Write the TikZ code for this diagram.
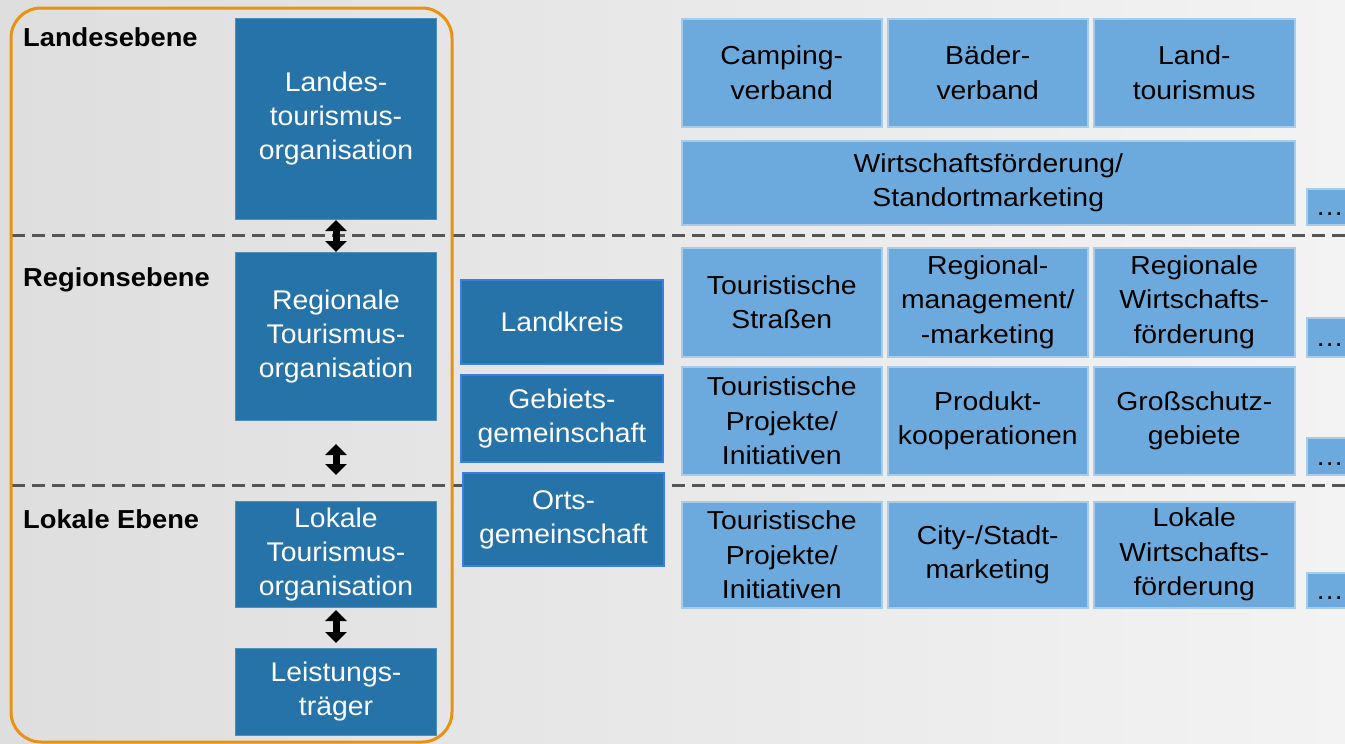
\documentclass[tikz,border=0pt]{standalone}
\usepackage{fontspec}
\setmainfont{Liberation Sans}
\newfontfamily\orgfamily[FakeStretch=1.05]{Liberation Sans}
\newfontfamily\topicfamily[FakeStretch=1.09]{Liberation Sans}
\usetikzlibrary{arrows.meta,positioning}

\definecolor{dkblue}{RGB}{38,115,170}
\definecolor{ltblue}{RGB}{108,170,221}
\definecolor{midedge}{RGB}{60,125,228}
\definecolor{frameorange}{RGB}{232,146,18}
\definecolor{dashgray}{RGB}{85,85,85}
\definecolor{bgleft}{RGB}{222,222,222}
\definecolor{bgright}{RGB}{243,243,243}

\newcommand\orgfont{\orgfamily\fontsize{27}{34}\selectfont}
\newcommand\topicfont{\topicfamily\fontsize{26}{34.5}\selectfont}
\newcommand\levelfont{\orgfamily\fontsize{26}{30}\selectfont\bfseries}

\tikzset{
  orgbox/.style={fill=dkblue, draw=dkblue!80!white, line width=1pt, text=white, font=\orgfont,
    align=center, inner sep=0pt, anchor=north west, minimum width=201pt},
  midbox/.style={orgbox, draw=midedge, line width=2pt},
  topicbox/.style={fill=ltblue, draw=ltblue!60!white, line width=1.5pt, text=black, font=\topicfont,
    align=center, inner sep=0pt, anchor=north west},
  morebox/.style={topicbox, minimum width=40pt, text height=18pt, text depth=0pt},
  level/.style={font=\levelfont, anchor=base west, inner sep=0pt},
  levelline/.style={dashgray, line width=3pt, dash pattern=on 13pt off 7pt},
  updown/.style={{Triangle[width=21pt,length=11pt]}-{Triangle[width=21pt,length=11pt]}, line width=7pt}
}

\begin{document}
\begin{tikzpicture}[x=1pt,y=-1pt]
\useasboundingbox (0,0) rectangle (1345,744);
\shade[left color=bgleft, right color=bgright] (0,0) rectangle (1345,744);
% Ebenen
\draw[levelline] (12,235) -- (1345,235);
\draw[levelline] (12,485) -- (1345,485);
\draw[frameorange, line width=3pt, rounded corners=30pt] (11,8) rectangle (452,742);
\node[level] (landes) at (23,46) {Landesebene};
\node[level] (region) at (23,286) {Regionsebene};
\node[level] (lokal) at (23,528) {Lokale Ebene};
% Tourismusorganisationen
\node[orgbox, minimum height=201pt] (lto) at (235,18) {Landes-\\tourismus-\\organisation};
\node[orgbox, minimum height=168pt] (rto) at (235,252) {Regionale\\Tourismus-\\organisation};
\node[orgbox, minimum height=106pt] (loto) at (235,501) {Lokale\\Tourismus-\\organisation};
\node[orgbox, minimum height=87pt] (leist) at (235,648) {Leistungs-\\träger};
\draw[updown] (lto.south) -- (rto.north);
\draw[updown, shorten <=23pt, shorten >=26pt] (rto.south) -- (loto.north);
\draw[updown, shorten <=2pt, shorten >=5pt] (loto.south) -- (leist.north);
% Gebietskoerperschaften
\node[midbox, minimum width=202pt, minimum height=84pt] (kreis) at (460,279) {Landkreis};
\node[midbox, minimum width=202pt, minimum height=87pt] (gebiet) at (460,374) {Gebiets-\\gemeinschaft};
\node[midbox, minimum width=201pt, minimum height=93pt] (orts) at (462,472) {Orts-\\gemeinschaft};
% weitere Akteure
\node[topicbox, minimum width=200pt, minimum height=108pt] (camp) at (681,18) {Camping-\\verband};
\node[topicbox, minimum width=200pt, minimum height=108pt] (baeder) at (887,18) {Bäder-\\verband};
\node[topicbox, minimum width=201pt, minimum height=108pt] (landt) at (1093,18) {Land-\\tourismus};
\node[topicbox, minimum width=613pt, minimum height=84pt] (wifoe) at (681,140) {Wirtschaftsförderung/\\Standortmarketing};
\node[topicbox, minimum width=200pt, minimum height=109pt] (strassen) at (681,247) {Touristische\\Straßen};
\node[topicbox, minimum width=200pt, minimum height=109pt] (regman) at (887,247) {Regional-\\management/\\-marketing};
\node[topicbox, minimum width=201pt, minimum height=109pt] (regwi) at (1093,247) {Regionale\\Wirtschafts-\\förderung};
\node[topicbox, minimum width=200pt, minimum height=108pt] (projreg) at (681,366) {Touristische\\Projekte/\\Initiativen};
\node[topicbox, minimum width=200pt, minimum height=108pt] (produkt) at (887,366) {Produkt-\\kooperationen};
\node[topicbox, minimum width=201pt, minimum height=108pt] (gross) at (1093,366) {Großschutz-\\gebiete};
\node[topicbox, minimum width=200pt, minimum height=106pt] (projlok) at (681,501) {Touristische\\Projekte/\\Initiativen};
\node[topicbox, minimum width=200pt, minimum height=106pt] (city) at (887,501) {City-/Stadt-\\marketing};
\node[topicbox, minimum width=201pt, minimum height=106pt] (lokwi) at (1093,501) {Lokale\\Wirtschafts-\\förderung};
\foreach \y/\h [count=\i] in {188/36pt,317/39pt,437/37pt,572/35pt}
  \node[morebox, minimum height=\h] (more\i) at (1306,\y) {\hspace*{6pt}…};
\end{tikzpicture}
\end{document}
